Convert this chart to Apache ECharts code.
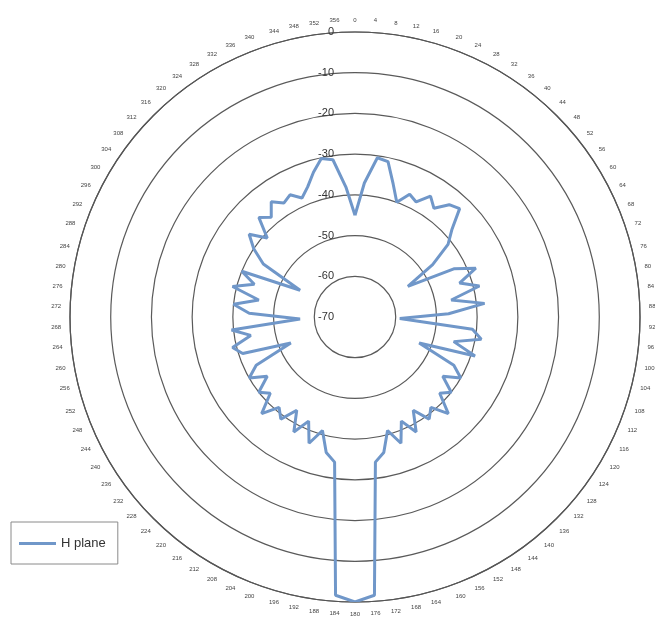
<!DOCTYPE html>
<html>
<head>
<meta charset="utf-8">
<script src="https://cdn.jsdelivr.net/npm/echarts@6/dist/echarts.min.js"></script>
<style>
  html, body { margin: 0; padding: 0; background: #ffffff; }
  #chart { width: 655px; height: 621px; }
</style>
</head>
<body>
<div id="chart"></div>
<script>
// Measurement angles (degrees, clockwise from top)
const angles = [
  0, 4, 8, 12, 16, 20, 24, 28, 32, 36, 40, 44, 48, 52, 56, 60, 64, 68, 72, 76, 80, 84, 88,
  92, 96, 100, 104, 108, 112, 116, 120, 124, 128, 132, 136, 140, 144, 148, 152, 156, 160, 164, 168, 172,
  176, 180, 184, 188, 192, 196, 200, 204, 208, 212, 216, 220, 224, 228, 232, 236, 240, 244, 248, 252, 256,
  260, 264, 268, 272, 276, 280, 284, 288, 292, 296, 300, 304, 308, 312, 316, 320, 324, 328, 332, 336, 340,
  344, 348, 352, 356
];

// H-plane gain (dB) at each angle
const hPlane = [
  -45, -37, -30.5, -31, -36, -40, -37, -38, -35, -37, -34, -33, -38, -41, -47, -55, -43, -38, -43, -38.5, -46, -38, -47,
  -59, -41, -38.5, -45, -39, -53, -43, -40, -44, -40, -42, -37, -41, -39, -43, -38, -42, -37, -41, -36, -34,
  -1.5, 0, -1.5, -34, -36, -41, -37, -42, -38, -43, -39, -41, -37, -42, -40, -44, -40, -43, -53, -41, -39,
  -44, -39.5, -56.5, -44, -40, -46, -39, -44, -40, -55, -44, -40, -37, -41, -36, -38, -35, -37, -36, -38, -36,
  -33, -30.2, -31, -38
];

// Angle scale (degrees) and ring scale (dB)
const angleMin = 0;
const angleMax = 360;
const angleStep = 4;
const radiusMin = -70;
const radiusMax = 0;
const radiusStep = 10;

// Close the loop by returning to the starting gain at 360°
const seriesData = angles.map((a, i) => [hPlane[i], a]);
seriesData.push([hPlane[0], angleMax]);

const chart = echarts.init(document.getElementById('chart'), null, { renderer: 'canvas' });
chart.setOption({
  animation: false,
  backgroundColor: '#ffffff',
  polar: {
    center: [355, 317],
    radius: 285
  },
  angleAxis: {
    type: 'value',
    min: angleMin,
    max: angleMax,
    interval: angleStep,
    startAngle: 90,
    clockwise: true,
    axisLine: { show: true, lineStyle: { color: '#555555', width: 1.2 } },
    axisTick: { show: false },
    splitLine: { show: false },
    axisLabel: {
      show: true,
      margin: 9,
      fontSize: 6,
      fontFamily: 'Liberation Sans',
      color: '#444444',
      formatter: v => (v === angleMax ? '' : String(v))
    }
  },
  radiusAxis: {
    type: 'value',
    min: radiusMin,
    max: radiusMax,
    interval: radiusStep,
    axisLine: { show: false },
    axisTick: { show: false },
    splitLine: { show: true, lineStyle: { color: '#5a5a5a', width: 1.2 } },
    axisLabel: {
      show: true,
      margin: 21,
      fontSize: 11,
      fontFamily: 'Liberation Sans',
      color: '#333333'
    }
  },
  legend: {
    left: 11,
    top: 522,
    orient: 'vertical',
    padding: [15, 12, 14, 8],
    borderColor: '#8a8a8a',
    borderWidth: 1,
    itemWidth: 37,
    itemHeight: 3,
    icon: 'rect',
    textStyle: { fontSize: 13, fontFamily: 'Liberation Sans', color: '#333333' },
    data: ['H plane']
  },
  series: [{
    name: 'H plane',
    type: 'line',
    coordinateSystem: 'polar',
    data: seriesData,
    showSymbol: false,
    symbol: 'none',
    smooth: false,
    itemStyle: { color: '#7097c9' },
    lineStyle: { color: '#7097c9', width: 3 }
  }]
});
</script>
</body>
</html>
